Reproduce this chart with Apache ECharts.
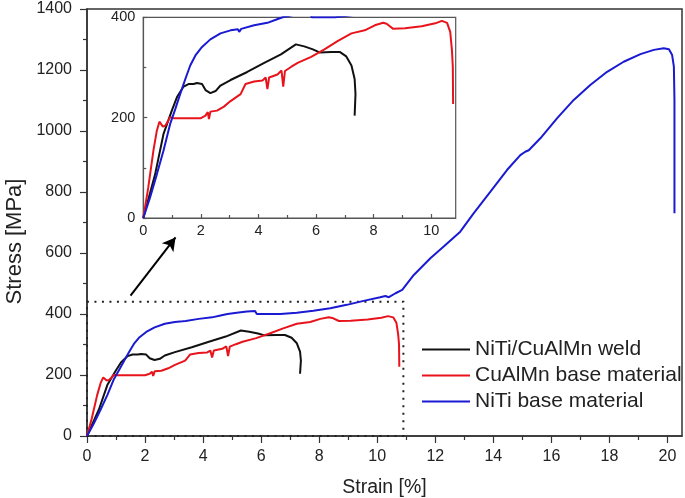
<!DOCTYPE html>
<html>
<head>
<meta charset="utf-8">
<script src="https://cdn.jsdelivr.net/npm/echarts@6/dist/echarts.min.js"></script>
<style>
html,body{margin:0;padding:0;background:#fff;}
#chart{width:685px;height:498px;}
</style>
</head>
<body>
<div id="chart"></div>
<script>
// ---- data ----
const seriesNames = ['NiTi/CuAlMn weld', 'CuAlMn base material', 'NiTi base material'];

const strainWeld = [0, 0.41, 0.70, 0.99, 1.17, 1.40, 1.57, 1.75, 1.86, 2.04, 2.16, 2.33, 2.51, 2.68, 3.03, 3.61, 4.20, 4.78, 5.30, 5.59, 5.89, 6.12, 6.53, 6.82, 7.05, 7.23, 7.34, 7.37, 7.34];
const stressWeld = [0, 87, 167, 214, 241, 262, 267, 267, 269, 267, 255, 249, 253, 264, 275, 291, 309, 326, 346, 342, 336, 330, 331, 331, 322, 304, 277, 247, 204];

const strainCu = [0, 0.17, 0.35, 0.47, 0.56, 0.62, 0.68, 0.76, 0.84, 0.93, 1.05, 1.52, 2.00, 2.16, 2.24, 2.28, 2.33, 2.56, 2.80, 3.03, 3.38, 3.55, 3.85, 4.14, 4.25, 4.31, 4.37, 4.66, 4.80, 4.86, 4.92, 5.13, 5.36, 5.83, 6.29, 6.76, 7.23, 7.69, 8.04, 8.33, 8.45, 8.68, 9.09, 9.67, 10.14, 10.37, 10.55, 10.66, 10.72, 10.75, 10.76];
const stressCu = [0, 60, 134, 174, 192, 194, 182, 184, 191, 201, 199, 199, 199, 204, 211, 197, 212, 214, 222, 233, 247, 267, 272, 274, 280, 257, 280, 286, 294, 262, 293, 301, 309, 321, 336, 353, 368, 374, 384, 389, 387, 377, 378, 382, 388, 393, 389, 371, 334, 301, 227];

const strainNiTi = [0, 0.23, 0.47, 0.70, 0.93, 1.11, 1.28, 1.46, 1.63, 1.81, 2.04, 2.33, 2.68, 3.03, 3.29, 3.33, 3.40, 3.85, 4.31, 4.60, 4.84, 5.16, 5.51, 5.79, 5.85, 6.66, 7.23, 7.80, 8.38, 8.95, 9.53, 10.10, 10.28, 10.40, 10.63, 10.86, 11.26, 11.83, 12.29, 12.86, 13.32, 13.90, 14.47, 14.93, 15.10, 15.22, 15.62, 16.20, 16.77, 17.34, 17.92, 18.49, 19.07, 19.53, 19.87, 20.05, 20.16, 20.22, 20.24, 20.24, 20.24];
const stressNiTi = [0, 40, 87, 134, 187, 217, 247, 277, 304, 324, 341, 356, 368, 374, 376, 371, 377, 384, 389, 395, 400, 404, 408, 410, 400, 400, 404, 411, 419, 430, 443, 455, 459, 455, 468, 479, 528, 583, 621, 670, 730, 801, 872, 921, 932, 937, 976, 1042, 1102, 1151, 1194, 1227, 1252, 1266, 1271, 1268, 1249, 1211, 1102, 867, 730];

const mainXTicks = [0, 2, 4, 6, 8, 10, 12, 14, 16, 18, 20];
const mainXMinor = [1, 3, 5, 7, 9, 11, 13, 15, 17, 19];
const insetXTicks = [0, 2, 4, 6, 8, 10];
const insetXMinor = [1, 3, 5, 7, 9];
const zoomBoxStrain = 10.9;
const zoomBoxStress = 440;
const arrowFrom = [1.5, 460];
const arrowTo = [3.05, 651];

// ---- helpers ----
function zip(xs, ys) { return xs.map((x, i) => [x, ys[i]]); }
const plain = v => String(v);

const FONT = '"Liberation Sans", Arial, Helvetica, sans-serif';
const TXT = '#222';
const colors = ['#111111', '#e8141c', '#1a1ad2'];

const chart = echarts.init(document.getElementById('chart'), null, {renderer: 'canvas'});

const lineSeries = (name, data, color, xi, yi, extra) => Object.assign({
  name: name, type: 'line', data: data, xAxisIndex: xi, yAxisIndex: yi,
  symbol: 'none', showSymbol: false, smooth: false, clip: true,
  lineStyle: {color: color, width: 2}, itemStyle: {color: color},
  emphasis: {disabled: true}, silent: true
}, extra || {});

const option = {
  animation: false,
  backgroundColor: '#fff',
  textStyle: {fontFamily: FONT, color: TXT},
  grid: [
    {left: 87, top: 9, width: 595, height: 427, containLabel: false, outerBoundsMode: 'none',
     show: true, borderColor: '#333', borderWidth: 1.5, backgroundColor: 'transparent'},
    {left: 143.3, top: 17.3, width: 312.4, height: 200.7, containLabel: false, outerBoundsMode: 'none',
     show: true, borderColor: '#555', borderWidth: 1.2, backgroundColor: '#fff'}
  ],
  xAxis: [
    {gridIndex: 0, type: 'value', min: 0, max: 20.5, position: 'bottom',
     name: 'Strain [%]', nameLocation: 'middle', nameGap: 42,
     nameTextStyle: {fontSize: 19.5, fontFamily: FONT, color: TXT},
     axisLine: {show: true, lineStyle: {color: '#333', width: 1.5}},
     axisTick: {show: true, customValues: mainXTicks, length: 7, lineStyle: {color: '#333', width: 1.2}},
     axisLabel: {customValues: mainXTicks, margin: 13, fontSize: 16, fontFamily: FONT, color: TXT, formatter: plain},
     splitLine: {show: false}},
    {gridIndex: 0, type: 'value', min: 0, max: 20.5, position: 'bottom', offset: 0,
     axisLine: {show: false},
     axisTick: {show: true, customValues: mainXMinor, length: 4, lineStyle: {color: '#333', width: 1.2}},
     axisLabel: {show: false}, splitLine: {show: false}},
    {gridIndex: 1, type: 'value', min: 0, max: 10.85, position: 'bottom',
     axisLine: {show: true, lineStyle: {color: '#555', width: 1.2}},
     axisTick: {show: true, inside: true, customValues: insetXTicks, length: 4, lineStyle: {color: '#555', width: 1.2}},
     axisLabel: {customValues: insetXTicks, margin: 5, fontSize: 14.5, fontFamily: FONT, color: TXT, formatter: plain},
     splitLine: {show: false}},
    {gridIndex: 1, type: 'value', min: 0, max: 10.85, position: 'bottom', offset: 0,
     axisLine: {show: false},
     axisTick: {show: true, inside: true, customValues: insetXMinor, length: 3, lineStyle: {color: '#555', width: 1.2}},
     axisLabel: {show: false}, splitLine: {show: false}}
  ],
  yAxis: [
    {gridIndex: 0, type: 'value', min: 0, max: 1400, interval: 200, position: 'left',
     name: 'Stress [MPa]', nameLocation: 'middle', nameGap: 60,
     nameTextStyle: {fontSize: 22, fontFamily: FONT, color: TXT, padding: [0, 38, 0, 0]},
     axisLine: {show: true, lineStyle: {color: '#333', width: 1.5}},
     axisTick: {show: true, length: 7, lineStyle: {color: '#333', width: 1.2}},
     minorTick: {show: true, splitNumber: 2, length: 4, lineStyle: {color: '#333', width: 1.2}},
     axisLabel: {margin: 15, fontSize: 16, fontFamily: FONT, color: TXT, formatter: plain},
     splitLine: {show: false}, minorSplitLine: {show: false}},
    {gridIndex: 1, type: 'value', min: 0, max: 400, interval: 200, position: 'left',
     axisLine: {show: true, lineStyle: {color: '#555', width: 1.2}},
     axisTick: {show: true, inside: true, length: 4, lineStyle: {color: '#555', width: 1.2}},
     minorTick: {show: true, splitNumber: 2, length: 3, lineStyle: {color: '#555', width: 1.2}},
     axisLabel: {margin: 8, fontSize: 14.5, fontFamily: FONT, color: TXT, formatter: plain},
     splitLine: {show: false}, minorSplitLine: {show: false}}
  ],
  legend: {
    orient: 'vertical', left: 417, top: 334, itemWidth: 48, itemHeight: 2, itemGap: 5,
    icon: 'rect',
    data: seriesNames, selectedMode: false,
    textStyle: {fontSize: 21, lineHeight: 20, fontFamily: FONT, color: TXT}
  },
  series: [
    lineSeries(seriesNames[0], zip(strainWeld, stressWeld), colors[0], 0, 0, {
      markLine: {
        silent: true, symbol: ['none', 'arrow'], symbolSize: [11, 13],
        lineStyle: {color: '#000', width: 2, type: 'solid'},
        label: {show: false}, emphasis: {disabled: true},
        data: [[{coord: arrowFrom}, {coord: arrowTo}]]
      }
    }),
    lineSeries(seriesNames[1], zip(strainCu, stressCu), colors[1], 0, 0),
    lineSeries(seriesNames[2], zip(strainNiTi, stressNiTi), colors[2], 0, 0, {
      markArea: {
        silent: true, label: {show: false}, emphasis: {disabled: true},
        itemStyle: {color: 'rgba(0,0,0,0)', borderColor: '#222', borderWidth: 2, borderType: [2, 5.5]},
        data: [[{coord: [0, 0]}, {coord: [zoomBoxStrain, zoomBoxStress]}]]
      }
    }),
    lineSeries(seriesNames[0], zip(strainWeld, stressWeld), colors[0], 2, 1),
    lineSeries(seriesNames[1], zip(strainCu, stressCu), colors[1], 2, 1),
    lineSeries(seriesNames[2], zip(strainNiTi, stressNiTi), colors[2], 2, 1)
  ]
};
chart.setOption(option);
</script>
</body>
</html>
